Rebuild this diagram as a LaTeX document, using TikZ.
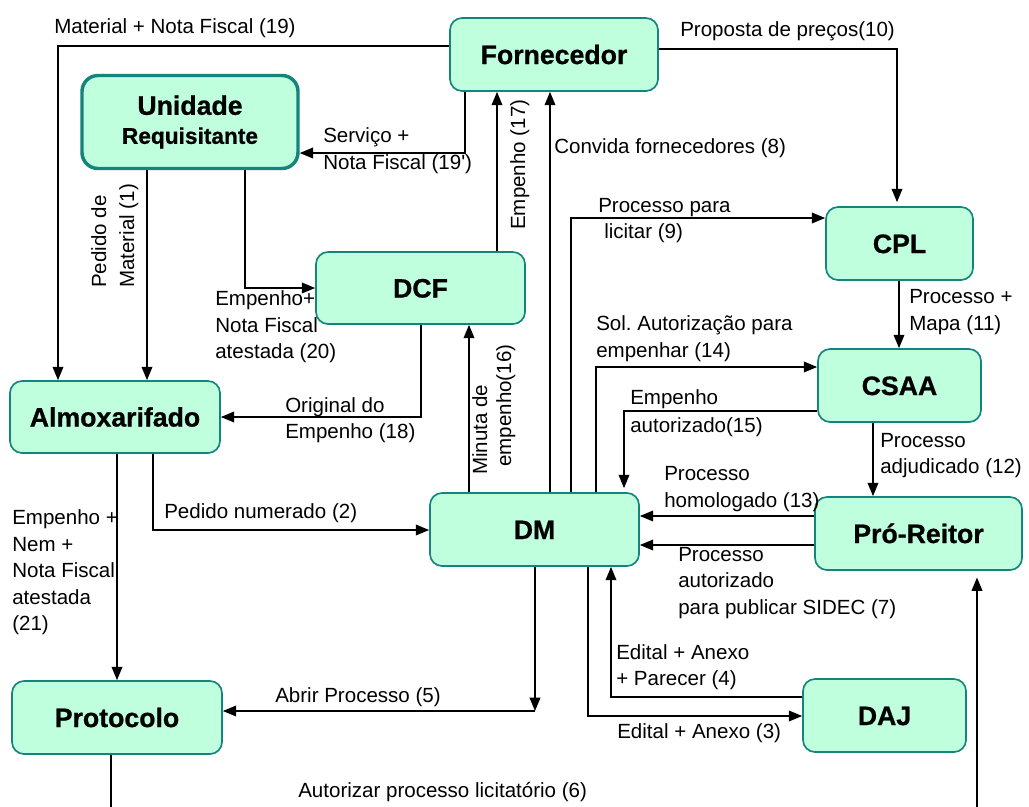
\documentclass[tikz,border=0pt]{standalone}
\usepackage{fontspec}
\setmainfont{Liberation Sans}
\newfontfamily\heavyfont[FakeBold=0.8]{Liberation Sans Bold}
\usetikzlibrary{arrows.meta}
\definecolor{boxfill}{RGB}{191,255,222}
\definecolor{boxline}{RGB}{20,132,124}
\frenchspacing
\begin{document}
\begin{tikzpicture}[x=0.75pt,y=-0.75pt,
  boxbase/.style 2 args={draw=boxline, fill=boxfill, line width=1.25pt,
    rounded corners=9pt, minimum width=#1*0.75pt, minimum height=#2*0.75pt,
    inner sep=0pt, font=\fontsize{20}{24}\selectfont\heavyfont},
  box/.style 2 args={boxbase={#1}{#2}, text height=14.3pt, text depth=0pt},
  arr/.style={line width=1.1pt, -{Triangle[length=10pt,width=8pt]}},
  lbl/.style={anchor=base west, inner sep=0pt, font=\fontsize{15.4}{18}\selectfont},
]
\path[use as bounding box] (0,0) rectangle (1029,807);
\fill[white] (0,0) rectangle (1029,807);
\clip (0,0) rectangle (1029,807);

% units and offices
\node[box={208}{73}] (Forn) at (554,54.5) {Fornecedor};
\node[boxbase={216}{93}, line width=2.6pt, rounded corners=12pt, align=center,
      font=\fontsize{20}{21.75}\selectfont\heavyfont] (Unid) at (190,122)
      {Unidade\\{\fontsize{17}{21.75}\selectfont Requisitante}};
\node[box={209}{72}] (DCF) at (420.5,288) {DCF};
\node[box={210}{72}] (Almox) at (115,417) {Almoxarifado};
\node[box={147}{73}] (CPL) at (899.5,243.5) {CPL};
\node[box={163}{73}] (CSAA) at (899.5,385.5) {CSAA};
\node[box={207}{73}] (PR) at (918.5,533.5) {Pró-Reitor};
\node[box={209}{73}] (DM) at (534.5,529.5) {DM};
\node[box={163}{73}] (DAJ) at (884.5,715.5) {DAJ};
\node[box={210}{73}] (Prot) at (117,717.5) {Protocolo};

% flows between the units
\draw[arr] (Forn.west |- 0,46) -| (58,0 |- Almox.north);
\draw[arr] (Forn.south -| 465,0) |- (Unid.east |- 0,153);
\draw[arr] (Unid.south -| 147,0) -- (Almox.north -| 147,0);
\draw[arr] (Unid.south -| 245,0) |- (DCF.west |- 0,288);
\draw[arr] (DCF.north -| 497,0) -- (Forn.south -| 497,0);
\draw[arr] (DM.north -| 550,0) -- (Forn.south -| 550,0);
\draw[arr, shorten >=3pt] (Forn.east |- 0,49) -| (CPL.north -| 897,0);
\draw[arr] (DM.north -| 571,0) |- (CPL.west |- 0,218);
\draw[arr] (CPL.south -| 899,0) -- (CSAA.north -| 899,0);
\draw[arr] (DM.north -| 596,0) |- (CSAA.west |- 0,367);
\draw[arr, shorten >=3pt] (CSAA.west |- 0,411) -| (DM.north -| 624,0);
\draw[arr] (CSAA.south -| 873,0) -- (PR.north -| 873,0);
\draw[arr] (PR.west |- 0,516) -- (DM.east |- 0,516);
\draw[arr] (PR.west |- 0,545) -- (DM.east |- 0,545);
\draw[arr] (DM.south -| 588,0) |- (DAJ.west |- 0,716);
\draw[arr] (DAJ.west |- 0,697) -| (DM.south -| 611,0);
\coordinate (c5) at (535,711);
\draw[arr] (DM.south -| 535,0) -- (c5);
\draw[arr] (c5) -- (Prot.east |- c5);
\coordinate (c6) at (111,840);
\draw[arr, shorten >=5pt] (Prot.south -| c6) -- (c6) -| (PR.south -| 977,0);
\draw[arr] (DCF.south -| 421,0) |- (Almox.east |- 0,417);
\draw[arr] (Almox.south -| 153,0) |- (DM.west |- 0,530);
\draw[arr] (Almox.south -| 117,0) -- (Prot.north -| 117,0);
\draw[arr] (DM.north -| 469,0) -- (DCF.south -| 469,0);

% flow labels
\node[lbl] at (54,33) {Material + Nota Fiscal (19)};
\node[lbl] at (323,142) {Serviço +};
\node[lbl] at (323,169) {Nota Fiscal (19\textquotesingle)};
\node[lbl] at (680,36) {Proposta de preços(10)};
\node[lbl] at (554,153) {Convida fornecedores (8)};
\node[lbl] at (598,212) {Processo para};
\node[lbl] at (604,238) {licitar (9)};
\node[lbl, rotate=90] at (106,288) {Pedido de};
\node[lbl, rotate=90] at (134,288) {Material (1)};
\node[lbl, rotate=90] at (525,230) {Empenho (17)};
\node[lbl] at (215,305) {Empenho+};
\node[lbl] at (215,332) {Nota Fiscal};
\node[lbl] at (215,358) {atestada (20)};
\node[lbl] at (909,303) {Processo +};
\node[lbl] at (909,330) {Mapa (11)};
\node[lbl] at (596,330) {Sol. Autorização para};
\node[lbl] at (596,357) {empenhar (14)};
\node[lbl] at (630,404) {Empenho};
\node[lbl] at (630,432) {autorizado(15)};
\node[lbl] at (285,412) {Original do};
\node[lbl] at (285,438) {Empenho (18)};
\node[lbl, rotate=90] at (487,475) {Minuta de};
\node[lbl, rotate=90] at (511,467) {empenho(16)};
\node[lbl] at (880,447) {Processo};
\node[lbl] at (880,473) {adjudicado (12)};
\node[lbl] at (664,480) {Processo};
\node[lbl] at (664,507) {homologado (13)};
\node[lbl] at (164,518) {Pedido numerado (2)};
\node[lbl] at (12,524) {Empenho +};
\node[lbl] at (12,551) {Nem +};
\node[lbl] at (12,577) {Nota Fiscal};
\node[lbl] at (12,604) {atestada};
\node[lbl] at (12,630) {(21)};
\node[lbl] at (678,561) {Processo};
\node[lbl] at (678,587) {autorizado};
\node[lbl] at (678,614) {para publicar SIDEC (7)};
\node[lbl] at (616,659) {Edital + Anexo};
\node[lbl] at (616,685) {+ Parecer (4)};
\node[lbl] at (275,702) {Abrir Processo (5)};
\node[lbl] at (617,738) {Edital + Anexo (3)};
\node[lbl] at (298,797) {Autorizar processo licitatório (6)};
\end{tikzpicture}
\end{document}
